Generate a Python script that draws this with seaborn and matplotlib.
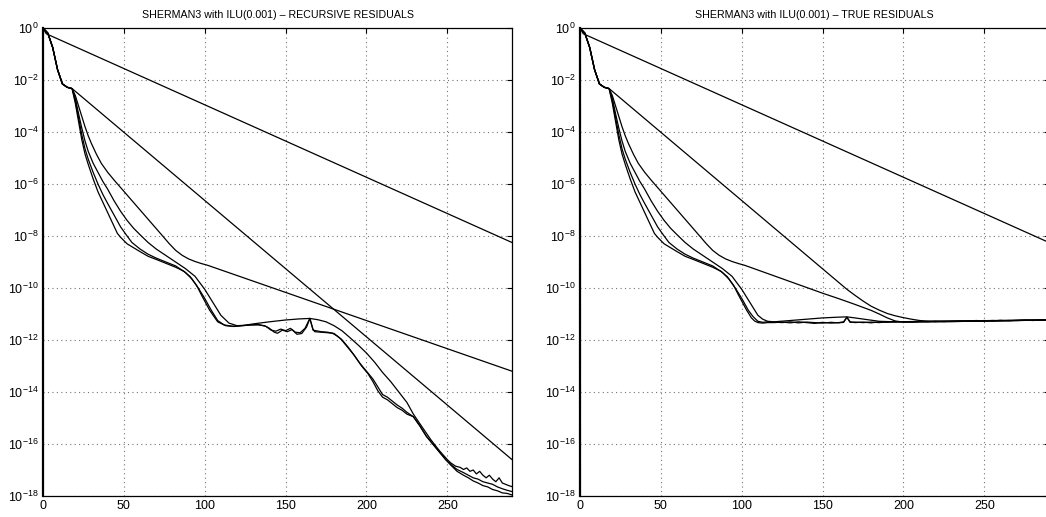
import numpy as np
import pandas as pd
import matplotlib
matplotlib.use("Agg")
import matplotlib.pyplot as plt
import seaborn as sns
from matplotlib.ticker import FixedLocator, NullLocator, LogFormatterSciNotation

# ---------------------------------------------------------------------------
# Convergence histories (iteration number, log10 of relative residual norm)
# ---------------------------------------------------------------------------

# slowest method: almost linear decay
it_m1 = [0, 2, 290]
lg_m1 = [0.0, -0.22, -8.25]

# common start shared by the other methods
it_start = [0, 3, 6, 9, 12, 15, 18]
lg_start = [0.0, -0.2, -0.75, -1.6, -2.15, -2.28, -2.33]

# method 2: straight decay after the initial phase
it_m2_rec = [290]
lg_m2_rec = [-16.6]
it_m2_true = [165, 170, 175, 180, 185, 190, 195, 200, 205, 210, 215, 220, 230, 240, 250, 260, 270, 280, 290]
lg_m2_true = [-10.05, -10.28, -10.5, -10.7, -10.85, -10.98, -11.07, -11.14, -11.2, -11.25, -11.28, -11.29,
              -11.29, -11.28, -11.27, -11.26, -11.25, -11.24, -11.23]

# method 3: fast start, then slow linear decay
it_m3 = [20, 22, 24, 26, 28, 30, 33, 36, 40, 44, 50, 56, 62, 68, 74, 78, 82, 86, 90, 94, 98, 102]
lg_m3 = [-2.6, -3.0, -3.4, -3.8, -4.15, -4.45, -4.85, -5.2, -5.55, -5.85, -6.28, -6.71, -7.14, -7.57,
         -8.0, -8.29, -8.55, -8.74, -8.88, -8.98, -9.06, -9.13]
it_m3_rec = [290]
lg_m3_rec = [-13.2]
it_m3_true = [150, 160, 170, 180, 185, 190, 195, 200, 210, 220, 230, 240, 250, 260, 270, 280, 290]
lg_m3_true = [-10.2, -10.41, -10.63, -10.86, -11.0, -11.15, -11.27, -11.31, -11.31, -11.3, -11.29, -11.28,
              -11.27, -11.26, -11.25, -11.24, -11.23]

# methods 4-6: fast convergence (shared phase up to stagnation)
it_m4 = [20, 22, 24, 26, 28, 31, 34, 37, 40, 43, 46, 48, 52, 56, 60, 65, 70, 76, 82, 87, 91, 95, 98, 103]
lg_m4 = [-2.9, -3.6, -4.3, -4.85, -5.25, -5.8, -6.3, -6.7, -7.1, -7.5, -7.9, -8.05, -8.3, -8.45, -8.6,
         -8.78, -8.9, -9.05, -9.2, -9.35, -9.56, -9.9, -10.27, -10.85]
it_m5 = [20, 22, 24, 26, 28, 31, 34, 37, 40, 44, 48, 52, 55, 60, 65, 70, 76, 82, 88, 92, 96, 100, 104]
lg_m5 = [-2.8, -3.45, -4.1, -4.65, -5.05, -5.55, -6.0, -6.4, -6.75, -7.2, -7.65, -8.0, -8.25, -8.5, -8.7,
         -8.85, -9.0, -9.15, -9.4, -9.65, -10.0, -10.4, -10.85]
it_m6 = [20, 22, 24, 26, 28, 31, 34, 37, 40, 44, 48, 52, 56, 60, 65, 70, 76, 82, 88, 94, 100, 105]
lg_m6 = [-2.7, -3.3, -3.85, -4.35, -4.75, -5.2, -5.55, -5.9, -6.2, -6.65, -7.05, -7.4, -7.7, -7.95, -8.25,
         -8.5, -8.75, -9.0, -9.25, -9.55, -10.05, -10.55]

# recursive residuals after stagnation
it_m4_rec = [108, 113, 118, 123, 128, 133, 137, 140, 143, 145, 148, 151, 154, 157, 160, 163, 165, 167, 168,
             172, 176, 179, 182, 185, 189, 193, 197, 201, 204, 207, 210, 213, 216, 219, 222, 225, 229, 233,
             237, 241, 245, 249, 252, 256, 260, 263, 266, 269, 272, 275, 278, 281, 284, 287, 290]
lg_m4_rec = [-11.3, -11.45, -11.48, -11.45, -11.42, -11.42, -11.45, -11.55, -11.7, -11.74, -11.62, -11.68,
             -11.6, -11.78, -11.75, -11.5, -11.17, -11.6, -11.68, -11.7, -11.72, -11.74, -11.85, -12.0, -12.3,
             -12.64, -13.0, -13.3, -13.6, -13.95, -14.2, -14.3, -14.45, -14.6, -14.7, -14.85, -14.95, -15.3,
             -15.7, -16.0, -16.3, -16.6, -16.8, -17.05, -17.2, -17.3, -17.42, -17.5, -17.6, -17.65, -17.75,
             -17.8, -17.88, -17.9, -17.96]
it_m5_rec = [108, 112, 117, 125, 133, 138, 141, 144, 147, 150, 153, 156, 159, 162, 165, 167, 172, 176, 180,
             184, 188, 192, 196, 200, 204, 207, 210, 213, 216, 219, 222, 225, 229, 233, 237, 241, 245, 249,
             252, 256, 260, 263, 266, 269, 272, 275, 278, 281, 284, 287, 290]
lg_m5_rec = [-11.25, -11.42, -11.47, -11.44, -11.4, -11.48, -11.62, -11.66, -11.58, -11.64, -11.55, -11.7,
             -11.72, -11.55, -11.17, -11.62, -11.68, -11.7, -11.75, -11.95, -12.25, -12.55, -12.9, -13.2,
             -13.5, -13.8, -14.1, -14.2, -14.35, -14.5, -14.62, -14.78, -14.95, -15.3, -15.7, -16.0, -16.3,
             -16.6, -16.78, -16.98, -17.1, -17.2, -17.3, -17.35, -17.45, -17.5, -17.55, -17.65, -17.72,
             -17.78, -17.83]
it_m6_rec = [110, 115, 120, 125, 130, 140, 150, 158, 165, 170, 175, 180, 185, 190, 195, 200, 205, 210, 215,
             220, 225, 229, 235, 240, 245, 250, 252, 255, 258, 260, 262, 264, 266, 268, 270, 272, 274, 276,
             278, 280, 282, 284, 286, 288, 290]
lg_m6_rec = [-11.05, -11.35, -11.45, -11.43, -11.38, -11.3, -11.23, -11.19, -11.17, -11.22, -11.3, -11.45,
             -11.65, -11.92, -12.2, -12.5, -12.85, -13.25, -13.6, -14.0, -14.4, -14.85, -15.4, -15.85, -16.25,
             -16.6, -16.72, -16.85, -16.9, -16.98, -16.92, -17.05, -17.0, -17.15, -17.05, -17.2, -17.3, -17.2,
             -17.35, -17.45, -17.3, -17.5, -17.55, -17.6, -17.64]

# true residuals after stagnation
it_floor = [120, 125, 130, 135, 140, 145, 150, 155, 160, 163, 165, 167, 170, 175, 180, 185, 190, 195, 200,
            205, 210, 215, 220, 225, 230, 235, 240, 245, 250, 255, 260, 265, 270, 275, 280, 285, 290]
lg_floor_a = [-11.33, -11.31, -11.34, -11.3, -11.33, -11.36, -11.32, -11.35, -11.33, -11.3, -11.12, -11.3,
              -11.33, -11.31, -11.34, -11.3, -11.32, -11.29, -11.31, -11.3, -11.28, -11.3, -11.27, -11.29,
              -11.27, -11.28, -11.26, -11.27, -11.25, -11.27, -11.24, -11.26, -11.24, -11.23, -11.25, -11.22,
              -11.23]
lg_floor_b = [-11.31, -11.33, -11.3, -11.34, -11.31, -11.33, -11.35, -11.32, -11.34, -11.32, -11.13, -11.32,
              -11.31, -11.33, -11.31, -11.33, -11.3, -11.31, -11.29, -11.31, -11.29, -11.28, -11.29, -11.27,
              -11.28, -11.26, -11.28, -11.25, -11.27, -11.25, -11.26, -11.24, -11.25, -11.24, -11.23, -11.24,
              -11.22]
it_m4_true = [106, 108, 110, 113, 116]
lg_m4_true = [-11.15, -11.27, -11.33, -11.35, -11.33]
it_m5_true = [107, 110, 113, 116]
lg_m5_true = [-11.1, -11.28, -11.32, -11.3]
it_m6_true = [110, 113, 116, 120, 130, 140, 150, 160, 165, 170, 178, 185, 195, 205, 215, 225, 235, 245, 255,
              265, 275, 285, 290]
lg_m6_true = [-11.05, -11.2, -11.28, -11.3, -11.25, -11.2, -11.15, -11.12, -11.11, -11.15, -11.22, -11.28,
              -11.3, -11.29, -11.28, -11.28, -11.27, -11.26, -11.25, -11.25, -11.24, -11.23, -11.22]

titles = ["SHERMAN3 with ILU(0.001) \u2013 RECURSIVE RESIDUALS",
          "SHERMAN3 with ILU(0.001) \u2013 TRUE RESIDUALS"]
x_ticks = [0, 50, 100, 150, 200, 250]
y_exponents = list(range(0, -19, -2))


def history(name, its, lgs):
    its = np.concatenate([np.asarray(a, float) for a in its])
    lgs = np.concatenate([np.asarray(a, float) for a in lgs])
    return pd.DataFrame({"method": name, "iteration": its, "residual": 10.0 ** lgs})


rec = pd.concat([
    history("m1", [it_m1], [lg_m1]),
    history("m2", [it_start, it_m2_rec], [lg_start, lg_m2_rec]),
    history("m3", [it_start, it_m3, it_m3_rec], [lg_start, lg_m3, lg_m3_rec]),
    history("m4", [it_start, it_m4, it_m4_rec], [lg_start, lg_m4, lg_m4_rec]),
    history("m5", [it_start, it_m5, it_m5_rec], [lg_start, lg_m5, lg_m5_rec]),
    history("m6", [it_start, it_m6, it_m6_rec], [lg_start, lg_m6, lg_m6_rec]),
], ignore_index=True)

true = pd.concat([
    history("m1", [it_m1], [lg_m1]),
    history("m2", [it_start, it_m2_true], [lg_start, lg_m2_true]),
    history("m3", [it_start, it_m3, it_m3_true], [lg_start, lg_m3, lg_m3_true]),
    history("m4", [it_start, it_m4, it_m4_true, it_floor], [lg_start, lg_m4, lg_m4_true, lg_floor_a]),
    history("m5", [it_start, it_m5, it_m5_true, it_floor], [lg_start, lg_m5, lg_m5_true, lg_floor_b]),
    history("m6", [it_start, it_m6, it_m6_true], [lg_start, lg_m6, lg_m6_true]),
], ignore_index=True)

sns.set_theme(style="white")
plt.rcParams["font.family"] = ["Liberation Sans", "DejaVu Sans"]
plt.rcParams["mathtext.fontset"] = "custom"
plt.rcParams["mathtext.rm"] = "Liberation Sans"
plt.rcParams["mathtext.it"] = "Liberation Sans:italic"

fig = plt.figure(figsize=(10.46, 5.17), dpi=100)
fig.patch.set_facecolor("white")
ax_w, ax_h = 0.4484, 0.9052
axes = [fig.add_axes([0.0411, 0.0406, ax_w, ax_h]),
        fig.add_axes([0.5545, 0.0406, ax_w, ax_h])]

for ax, data, title in zip(axes, [rec, true], titles):
    sns.lineplot(data=data, x="iteration", y="residual", units="method", estimator=None,
                 sort=False, color="black", linewidth=0.9, ax=ax, legend=False)
    ax.set_yscale("log")
    ax.set_xlim(0, 290)
    ax.set_ylim(1e-18, 1)
    ax.xaxis.set_major_locator(FixedLocator(x_ticks))
    ax.yaxis.set_major_locator(FixedLocator([10.0 ** e for e in y_exponents]))
    ax.yaxis.set_major_formatter(LogFormatterSciNotation())
    ax.yaxis.set_minor_locator(NullLocator())
    ax.set_xlabel("")
    ax.set_ylabel("")
    ax.set_facecolor("white")
    ax.grid(True, which="major", linestyle=(0, (1, 3)), color="0.45", linewidth=0.8)
    ax.set_axisbelow(True)
    ax.tick_params(axis="both", which="major", direction="in", length=3.5, width=0.8,
                   top=True, right=True, labelsize=9, pad=3, colors="black")
    for side in ["top", "right", "bottom", "left"]:
        ax.spines[side].set_color("black")
        ax.spines[side].set_linewidth(0.9)
    ax.spines["left"].set_linewidth(1.6)
    ax.set_title(title, fontsize=7.7, pad=7, color="black")

fig.savefig("out.png", dpi=100, facecolor="white")
